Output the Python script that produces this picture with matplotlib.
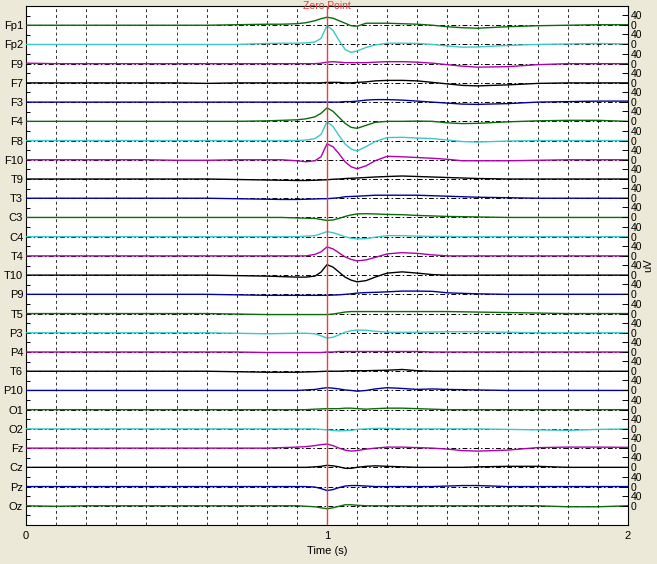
import matplotlib
matplotlib.use('Agg')
import matplotlib.pyplot as plt
import numpy as np
from matplotlib import font_manager

# ---------------- data ----------------
times = [0, 0.1, 0.2, 0.3, 0.4, 0.5, 0.6, 0.7, 0.8, 0.85,
         0.9, 0.93, 0.96, 0.98, 1.0, 1.02, 1.04, 1.06, 1.08, 1.1,
         1.13, 1.16, 1.2, 1.25, 1.3, 1.35, 1.4, 1.45, 1.5, 1.6,
         1.7, 1.8, 1.9, 2.0]

channels = ['Fp1', 'Fp2', 'F9', 'F7', 'F3', 'F4', 'F8', 'F10', 'T9', 'T3',
            'C3', 'C4', 'T4', 'T10', 'P9', 'T5', 'P3', 'P4', 'T6', 'P10',
            'O1', 'O2', 'Fz', 'Cz', 'Pz', 'Oz']

# amplitudes in uV at each time sample
fp1 = [0, 0, 0, 0, 0, 0, 0, 2, 4, 4,
       6, 10, 18, 26, 32, 28, 18, 8, -2, -4,
       8, 8, 8, 6, 4, 0, -6, -10, -12, -6,
       -2, 0, 2, 2]
fp2 = [0, 0, 0, 0, 0, 0, 0, 0, 4, 5,
       5, 6, 10, 24, 76, 56, 16, -20, -32, -26,
       -12, -2, 5, 5, 4, 0, -6, -11, -10, -4,
       0, 2, 4, 2]
f9 = [2, 0, 0, 0, 0, 0, 0, 0, 0, 0,
      0, 0, 0, 2, 6, 8, 6, 4, 4, 4,
      4, 6, 8, 8, 6, 2, -4, -10, -14, -12,
      -4, 0, 0, 0]
f7 = [0, 0, 0, 0, 0, 0, -2, 0, 0, 0,
      0, 0, 0, 0, 2, 2, 2, 0, 0, 2,
      4, 8, 10, 10, 8, 2, -4, -10, -12, -8,
      -2, 0, 0, 0]
f3 = [0, 0, 0, 0, 0, 0, 0, 0, 0, 0,
      0, 0, 0, 0, 0, 0, 0, 2, 2, 4,
      8, 10, 10, 8, 4, 0, -4, -8, -9, -6,
      0, 2, 4, 4]
f4 = [0, 0, 0, 0, 0, 0, 0, 0, 2, 4,
      6, 10, 18, 32, 54, 40, 16, -8, -24, -28,
      -16, -4, 0, 0, 1, 0, -6, -9, -8, -2,
      2, 4, 4, 0]
f8 = [0, 0, 0, 0, 0, 0, 0, 0, 0, 0,
      0, 2, 8, 24, 76, 56, 20, -14, -34, -42,
      -24, -4, 12, 13, 10, 8, 2, -4, -6, -2,
      0, 0, 0, 0]
f10 = [0, 0, 0, 0, 0, -2, -2, 0, 0, 0,
       -4, -8, -4, 12, 64, 52, 24, -8, -28, -36,
       -24, -4, 14, 12, 9, 6, 2, -4, -4, -4,
       -2, 0, 0, 0]
t9 = [0, 0, 0, 0, 0, 0, 0, -2, -4, -5,
      -6, -6, -5, -4, -3, -1, 0, 2, 3, 4,
      6, 8, 10, 12, 10, 8, 6, 4, 2, 0,
      0, 0, 0, 0]
t3 = [0, 0, 0, 0, 0, 0, 0, -2, -4, -5,
      -5, -4, -3, -2, -2, 0, 2, 6, 7, 8,
      10, 12, 12, 12, 12, 10, 8, 6, 4, 2,
      0, 0, 0, 0]
c3 = [0, 0, 0, 0, 0, 0, 0, 0, 0, 0,
      -2, -3, -4, -8, -12, -10, -4, 4, 10, 14,
      15, 14, 12, 11, 8, 6, 4, 3, 2, 0,
      0, 0, 0, 0]
c4 = [0, 0, 0, 0, 0, 0, 0, 0, 0, 0,
      0, 2, 4, 12, 20, 16, 8, 0, -6, -9,
      -8, -2, 4, 4, 2, 1, 1, 0, 0, 0,
      0, 0, 0, 0]
t4 = [0, 0, 0, 0, 0, 0, 0, 0, 0, 0,
      0, 0, 6, 16, 36, 28, 12, -4, -14, -20,
      -16, -6, 8, 13, 10, 4, 0, 0, 0, 0,
      0, 0, 0, 0]
t10 = [0, 0, 0, 0, 0, 0, 0, -2, -4, -6,
       -8, -8, -4, 12, 42, 32, 12, -8, -20, -27,
       -22, -8, 8, 13, 8, 2, 0, 0, 0, 0,
       0, 0, 0, 0]
p9 = [0, 0, 0, 0, 0, 0, 0, -2, -4, -4,
      -4, -4, -4, -4, -4, -3, -2, 0, 2, 5,
      7, 8, 10, 13, 13, 12, 6, 4, 2, 0,
      0, 0, 0, 0]
t5 = [0, 0, 0, 0, 0, 0, 0, -2, -4, -4,
      -4, -4, -4, -4, -4, -2, 2, 6, 8, 8,
      8, 8, 8, 8, 8, 8, 8, 7, 6, 4,
      2, 0, 0, 0]
p3 = [0, 0, 0, 0, 0, 0, 0, -2, -4, -3,
      -2, -2, -4, -12, -21, -18, -8, 2, 8, 11,
      10, 6, 2, 2, 2, 3, 4, 4, 4, 2,
      0, 0, 0, 0]
p4 = [0, 0, 0, 0, 0, 0, 0, 0, -2, -2,
      -2, -2, -2, -2, 0, 0, 2, 2, 2, 2,
      2, 2, 2, 2, 2, 0, 0, 0, 0, 0,
      0, 0, 0, 0]
t6 = [0, 0, 0, 0, 0, 0, 0, -2, -4, -4,
      -4, -3, -2, -1, 0, 0, 0, 1, 2, 2,
      2, 3, 4, 7, 2, 0, 0, 0, 0, 0,
      0, 0, 0, 0]
p10 = [0, 0, 0, 0, 0, 0, 0, 0, 0, 0,
       0, 2, 4, 8, 11, 9, 6, 2, 0, -3,
       0, 6, 11, 8, 4, 6, 4, 3, 2, 0,
       0, 0, 0, 0]
o1 = [0, 0, 0, 0, 0, 0, 0, 0, 0, 0,
      0, 0, 2, 3, 4, 4, 4, 6, 6, 4,
      2, 4, 6, 6, 4, 2, 0, 0, 0, 0,
      0, 0, 0, 0]
o2 = [0, 0, 0, 0, 0, 0, 0, 0, 0, 0,
      0, 0, 0, -2, -4, -6, -8, -7, -6, -2,
      0, 2, 2, 0, 0, 0, 0, 0, 0, -2,
      -4, -6, -2, 0]
fz = [0, 0, 0, 0, 0, 0, 0, 0, 0, 2,
      4, 6, 10, 14, 16, 10, 0, -8, -12, -10,
      -4, 0, 4, 4, 2, 0, -4, -10, -12, -8,
      2, 4, 4, 3]
cz = [0, 0, 0, 0, 0, 0, 0, 0, 0, 0,
      0, 0, 2, 4, 8, 6, 2, -4, -4, 0,
      4, 6, 4, 2, 0, 0, 0, 0, 2, 4,
      4, 0, 0, 0]
pz = [0, 0, 0, 0, 0, 0, 0, 0, 0, 0,
      0, 0, -2, -8, -16, -12, -4, 2, 4, 4,
      2, 0, 0, 0, 0, 0, 2, 4, 4, 0,
      0, 0, 0, 0]
oz = [0, -2, 0, 0, 0, 0, 0, 0, 0, 0,
      0, -2, -4, -8, -12, -8, -2, 4, 4, 2,
      0, 0, 0, 0, 0, 0, 0, 0, 0, 0,
      0, -4, -4, 0]

signals = [fp1, fp2, f9, f7, f3, f4, f8, f10, t9, t3,
           c3, c4, t4, t10, p9, t5, p3, p4, t6, p10,
           o1, o2, fz, cz, pz, oz]

x_ticks = [0, 1, 2]
grid_times = [0.1, 0.2, 0.3, 0.4, 0.5, 0.6, 0.7, 0.8, 0.9,
              1.1, 1.2, 1.3, 1.4, 1.5, 1.6, 1.7, 1.8, 1.9]
zero_point = 1.0
scale_ticks = [0, 40]

# ---------------- style ----------------
names = {f.name for f in font_manager.fontManager.ttflist}
fam = 'Liberation Sans Narrow' if 'Liberation Sans Narrow' in names else 'Liberation Sans'
plt.rcParams['font.family'] = [fam, 'DejaVu Sans']

cycle = ['#0b6b0b', '#3cc8c8', '#b000b0', '#000000', '#0000a0']
SP = 77.0
N = len(channels)

W, H = 657, 564
fig = plt.figure(figsize=(W / 100, H / 100), dpi=100, facecolor='#ECE9D8')
ax = fig.add_axes([26 / W, 1 - 525 / H, 602 / W, 519 / H])
ax.set_facecolor('white')
ax.set_xlim(0, 2)
ax.set_ylim(0, (N + 1) * SP)

offsets = [(N - i) * SP for i in range(N)]

for g in grid_times:
    ax.axvline(g, color='#303030', lw=0.7, ls=(0, (3, 3)), zorder=1)

for off in offsets:
    ax.axhline(off, color='black', lw=0.7, ls=(0, (5, 2.5, 1.5, 2.5)), zorder=2)

for i, (sig, off) in enumerate(zip(signals, offsets)):
    ax.plot(times, np.asarray(sig, dtype=float) + off, color=cycle[i % 5],
            lw=1.0, zorder=3)

ax.axvline(zero_point, color='#e8403c', lw=1.0, zorder=4)
ax.text(zero_point, 1.0, 'Zero Point', transform=ax.get_xaxis_transform(),
        ha='center', va='center', color='#e8403c', fontsize=7.5, zorder=5)

for s in ax.spines.values():
    s.set_color('black')
    s.set_linewidth(0.8)

ax.set_yticks(offsets)
ax.set_yticklabels(channels)
ax.set_yticks([(k + 0.5) * SP for k in range(N + 1)], minor=True)
ax.tick_params(axis='y', which='both', direction='in', length=3, width=0.7,
               labelsize=8, pad=2)

ax.set_xticks(x_ticks)
ax.set_xticklabels([str(v) for v in x_ticks])
ax.tick_params(axis='x', direction='in', length=3, width=0.7, labelsize=8, pad=4)
ax.set_xlabel('Time (s)', fontsize=8, labelpad=4)

ax2 = ax.twinx()
ax2.set_ylim(ax.get_ylim())
rt, rl = [], []
for off in offsets:
    for v in scale_ticks:
        rt.append(off + v)
        rl.append(str(v))
ax2.set_yticks(rt)
ax2.set_yticklabels(rl)
ax2.tick_params(axis='y', direction='in', length=4, width=0.7, labelsize=7.5, pad=2)
for s in ax2.spines.values():
    s.set_visible(False)

fig.text(648 / W, 1 - 265 / H, 'uV', rotation=90, ha='center', va='center',
         fontsize=8)

fig.savefig('out.png', dpi=100, facecolor=fig.get_facecolor())
